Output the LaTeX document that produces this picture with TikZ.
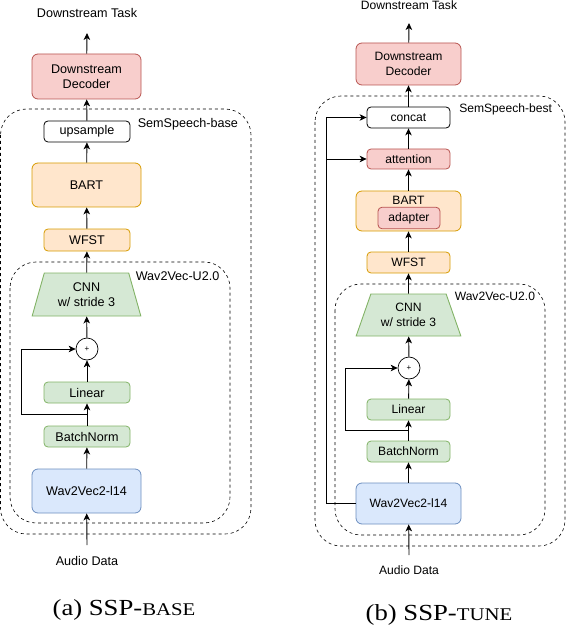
\documentclass[tikz,border=0pt]{standalone}
\usepackage{fontspec}
\setmainfont{Liberation Sans}
\newfontfamily\capfont[FakeStretch=1.16]{Liberation Serif}
\usetikzlibrary{arrows.meta,shapes.geometric,positioning,calc}
\definecolor{redfill}{HTML}{F8CECC}
\definecolor{redline}{HTML}{B85450}
\definecolor{orangefill}{HTML}{FFE6CC}
\definecolor{orangeline}{HTML}{D79B00}
\definecolor{greenfill}{HTML}{D5E8D4}
\definecolor{greenline}{HTML}{82B366}
\definecolor{bluefill}{HTML}{DAE8FC}
\definecolor{blueline}{HTML}{6C8EBF}
\newcommand{\fakesc}[1]{{\fontsize{17.9}{18}\selectfont #1}}
\begin{document}
\begin{tikzpicture}[x=1pt,y=-1pt,line width=0.9pt,
  >={Stealth[length=7pt,width=6.5pt,inset=2pt]},
  fonta/.style={font=\fontsize{12.6}{15}\selectfont},
  fontb/.style={font=\fontsize{12.1}{14.5}\selectfont},
  blk/.style={draw,line width=0.8pt,rounded corners=4pt,inner sep=0pt,align=center},
  bigblk/.style={blk,rounded corners=6pt},
  redbox/.style={fill=redfill,draw=redline},
  orangebox/.style={fill=orangefill,draw=orangeline},
  greenbox/.style={fill=greenfill,draw=greenline},
  bluebox/.style={fill=bluefill,draw=blueline},
  plainbox/.style={fill=white,draw=black},
  group/.style={draw,line width=0.6pt,dash pattern=on 3pt off 3pt,rounded corners=26pt},
  plus/.style={circle,draw,line width=0.7pt,fill=white,inner sep=0pt,minimum size=22pt,font=\fontsize{8}{8}\selectfont},
  cnn/.style={trapezium,trapezium stretches=true,draw=greenline,fill=greenfill,inner sep=0pt,align=center},
  caption/.style={font=\capfont\fontsize{23}{23}\selectfont,anchor=base}]
\useasboundingbox (0,0) rectangle (566,628);

\draw[group] (0.5,109) rectangle (251,534);
\draw[group] (10,262) rectangle (230,523);
\node[fonta,anchor=west] (base_lbl) at (134,124) {SemSpeech-base};
\node[fonta,anchor=west] (u20_lbl_a) at (132,276) {Wav2Vec-U2.0};

\node[fonta,anchor=base] (task_a) at (87,18) {Downstream Task};
\coordinate (top_a) at (87,33);
\node[fonta,bigblk,redbox,minimum width=109pt,minimum height=45pt] (dec_a) at (86.5,76.5) {Downstream\\Decoder};
\node[fonta,blk,plainbox,minimum width=86pt,minimum height=21pt] (ups_a) at (87,131.5) {upsample};
\node[fonta,bigblk,orangebox,minimum width=109pt,minimum height=44pt] (bart_a) at (86.5,185) {BART};
\node[fonta,blk,orangebox,minimum width=86pt,minimum height=22pt] (wfst_a) at (87,240) {WFST};
\node[fonta,cnn,trapezium left angle=71,trapezium right angle=71,minimum width=109pt,minimum height=43pt] (cnn_a) at (86.5,294.5) {CNN\\w/ stride 3};
\node[plus] (plus_a) at (87,349) {+};
\node[fonta,blk,greenbox,minimum width=86pt,minimum height=21pt] (lin_a) at (87,392.5) {Linear};
\node[fonta,blk,greenbox,minimum width=86pt,minimum height=21pt] (bn_a) at (87,436.5) {BatchNorm};
\node[fonta,bigblk,bluebox,minimum width=109pt,minimum height=44pt] (w2v_a) at (86.5,491) {Wav2Vec2-l14};
\coordinate (in_a) at (87,545);
\node[fonta,anchor=base] (audio_a) at (87,565) {Audio Data};
\coordinate (skip_a) at ($(bn_a.north)!0.5!(lin_a.south)$);

\path[->] (in_a) edge (w2v_a)
          (w2v_a) edge (bn_a)
          (bn_a) edge (lin_a)
          (lin_a) edge (plus_a)
          (plus_a) edge (cnn_a)
          (cnn_a) edge (wfst_a)
          (wfst_a) edge (bart_a)
          (bart_a) edge (ups_a)
          (ups_a) edge (dec_a)
          (dec_a) edge (top_a);
\draw[->] (skip_a) -- ++(-65.5,0) |- (plus_a.west);

\node[caption] (cap_a) at (124,615) {(a) SSP-\fakesc{BASE}};

\draw[group] (315,96) rectangle (565,546);
\draw[group] (335,284) rectangle (545,535);
\node[fontb,anchor=west] (best_lbl) at (455.5,109) {SemSpeech-best};
\node[fontb,anchor=west] (u20_lbl_b) at (451,296) {Wav2Vec-U2.0};

\node[fontb,anchor=base] (task_b) at (409,9.5) {Downstream Task};
\coordinate (top_b) at (409,23);
\node[fontb,bigblk,redbox,minimum width=105pt,minimum height=42pt] (dec_b) at (408.5,64) {Downstream\\Decoder};
\node[fontb,blk,plainbox,minimum width=83pt,minimum height=21pt] (concat_b) at (408.5,117.5) {concat};
\node[fontb,blk,redbox,minimum width=83pt,minimum height=20pt] (att_b) at (408.5,159) {attention};
\node[bigblk,orangebox,minimum width=105pt,minimum height=40pt] (bart_b) at (408.5,211) {};
\node[fontb] (bart_lbl_b) at (408.5,200) {BART};
\node[fontb,blk,redbox,minimum width=62pt,minimum height=21.5pt] (adapter_b) at (409,218) {adapter};
\node[fontb,blk,orangebox,minimum width=83pt,minimum height=21pt] (wfst_b) at (408.5,262.5) {WFST};
\node[fontb,cnn,trapezium left angle=65,trapezium right angle=65,minimum width=105pt,minimum height=42pt] (cnn_b) at (408.5,315) {CNN\\w/ stride 3};
\node[plus] (plus_b) at (409,368) {+};
\node[fontb,blk,greenbox,minimum width=83pt,minimum height=21pt] (lin_b) at (408.5,409.5) {Linear};
\node[fontb,blk,greenbox,minimum width=83pt,minimum height=21pt] (bn_b) at (408.5,451.5) {BatchNorm};
\node[fontb,bigblk,bluebox,minimum width=105pt,minimum height=41pt] (w2v_b) at (408.5,503.5) {Wav2Vec2-l14};
\coordinate (in_b) at (409,555);
\node[fontb,anchor=base] (audio_b) at (409,574) {Audio Data};
\coordinate (skip_b) at ($(bn_b.north)!0.5!(lin_b.south)$);
\coordinate (spine_b) at (326,0);

\path[->] (in_b) edge (w2v_b)
          (w2v_b) edge (bn_b)
          (bn_b) edge (lin_b)
          (lin_b) edge (plus_b)
          (plus_b) edge (cnn_b)
          (cnn_b) edge (wfst_b)
          (wfst_b) edge (bart_b)
          (bart_b) edge (att_b)
          (att_b) edge (concat_b)
          (concat_b) edge (dec_b)
          (dec_b) edge (top_b);
\draw[->] (skip_b) -- ++(-63,0) |- (plus_b.west);
\draw[->] (w2v_b.west) -- (w2v_b.west -| spine_b) |- (concat_b.west);
\draw[->] (att_b.west -| spine_b) -- (att_b.west);

\node[caption] (cap_b) at (439,620) {(b) SSP-\fakesc{TUNE}};
\end{tikzpicture}
\end{document}
